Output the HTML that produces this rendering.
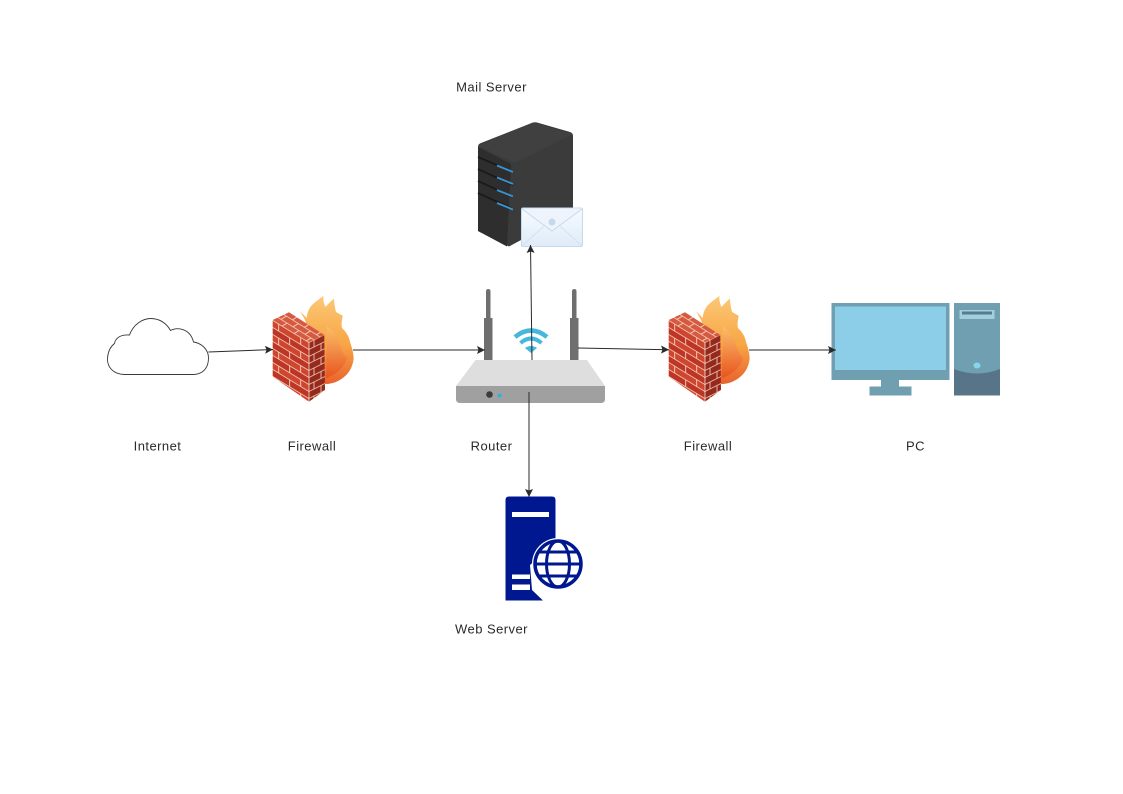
<!DOCTYPE html>
<html><head><meta charset="utf-8"><style>
html,body{margin:0;padding:0;background:#fff;width:1123px;height:794px;overflow:hidden}
svg{display:block}
text{font-family:"Liberation Sans",sans-serif;font-size:13px;letter-spacing:.45px;fill:#2a2a2a;text-anchor:middle}
</style></head><body>
<svg width="1123" height="794" viewBox="0 0 1123 794" xmlns="http://www.w3.org/2000/svg">
<defs>
<pattern id="bL" width="22" height="14" patternUnits="userSpaceOnUse" patternTransform="matrix(1 .61 0 1 272.7 320)">
<rect width="22" height="7" fill="#cf4630"/><rect y="7" width="22" height="7" fill="#bd3526"/>
<path d="M0 .4H22M0 7.400H22M6 0V7M17 7V14" stroke="#f7d6bf" stroke-width=".9" fill="none"/>
</pattern>
<pattern id="bR" width="14" height="14" patternUnits="userSpaceOnUse" patternTransform="matrix(1 -.5 0 1 309 342)">
<rect width="14" height="14" fill="#96291d"/>
<path d="M0 .4H14M0 7.400H14M5 0V7M12 7V14" stroke="#f2c7b0" stroke-width=".9" fill="none"/>
</pattern>
<pattern id="bT" width="12" height="12" patternUnits="userSpaceOnUse" patternTransform="matrix(1 .62 -.9 .55 272 320)">
<rect width="12" height="12" fill="#d65a41"/>
<path d="M0 .4H12M0 6.400H12M4 0V6M10 6V12" stroke="#f6d2bb" stroke-width=".9" fill="none"/>
</pattern>
<linearGradient id="fl" x1="0" y1="0" x2="0" y2="1"><stop offset="0" stop-color="#fcc877"/><stop offset=".55" stop-color="#f8a545"/><stop offset="1" stop-color="#e8622e"/></linearGradient>
<linearGradient id="fi" x1="0" y1="0" x2="0" y2="1"><stop offset="0" stop-color="#fbc06a"/><stop offset="1" stop-color="#e8541f"/></linearGradient>
<linearGradient id="env" x1="0" y1="0" x2="0" y2="1"><stop offset="0" stop-color="#f7fbff"/><stop offset="1" stop-color="#dfebf8"/></linearGradient>
<g id="fw">
<path d="M300 311L306.700 318C307 313 309 309 311 306C315 302 319 299 323.500 296C323 300 324 304 325.500 307C328 304 331 301 334 298.500C334 303 335 308 336 312L342.700 315.700C342 320 341 324 342 328C346 332 349 336 350 342C352 348 354 354 353.500 360C352 368 349 373 344 377C338 382 332 384 325 384L305 320Z" fill="url(#fl)"/>
<path d="M327 326C333 331 338 338 340 345C342 352 345 356 347 358C345 366 338 374 326 378Z" fill="url(#fi)"/>
<path d="M272.700 320L289 312.300L324.300 335L309 342.300Z" fill="url(#bT)"/>
<path d="M272.700 320L309 342.300L309 401.700L272.700 376.700Z" fill="url(#bL)"/>
<path d="M309 342.300L324.300 335L325 390L309 401.700Z" fill="url(#bR)"/>
<path d="M309 342.300V401.700" stroke="#f6e0d0" stroke-width=".8"/>
</g>
<marker id="a" markerUnits="userSpaceOnUse" markerWidth="9" markerHeight="8" refX="8" refY="4" orient="auto"><path d="M0 0L8 4L0 8L1.500 4Z" fill="#2a2a2a"/></marker>
</defs>

<!-- Cloud -->
<path d="M124 374.500C113 374 107 367 107.500 358C108 352 110 347 114.500 343.500C115.500 337 122 334.500 129.500 335C133 325 142 318.500 151 318.500C159 318.500 166.500 323 170.500 330.500C177 327 190 328 193.500 342C201 343 208.500 349 208.500 358C208.500 368 203 374 194 374.500Z" fill="#fff" stroke="#3a3a3a" stroke-width=".9"/>

<use href="#fw"/>
<use href="#fw" x="396"/>

<!-- Mail server -->
<path d="M478 147Q478 144 481 143L533 122.500Q535 122 537 122.500L570 132Q573 133 573 136V212L509 246.500L478 231Z" fill="#3b3b3b"/>
<path d="M478 146L533 122.500L573 134L515 163Z" fill="#404040"/>
<path d="M478 147L511 164L507 246.500L478 231Z" fill="#2e2e2e"/>
<path d="M478 157L513 172M478 169L513 185M478 181L513 197M478 193L513 209" stroke="#1b1b1b" stroke-width="2"/>
<path d="M497 165.500L513 172M497 177.500L513 184M497 190L513 196.500M497 203L513 209.500" stroke="#3a93d4" stroke-width="1.800"/>
<rect x="521.500" y="208" width="61" height="38.500" rx="1.500" fill="url(#env)" stroke="#c5d9ef"/>
<path d="M522 209L552 231L582 209" fill="#eef4fc" stroke="#c5d9ef"/>
<path d="M522 246L544 226M582 246L560 226" stroke="#d3e2f3"/>
<circle cx="552" cy="222" r="3.500" fill="#c8d8ea"/>

<!-- Router -->
<rect x="484" y="318" width="8.500" height="42" fill="#6f6f6f"/>
<rect x="486" y="289" width="4.500" height="32" rx="2.200" fill="#6f6f6f"/>
<rect x="570" y="318" width="8.500" height="42" fill="#6f6f6f"/>
<rect x="572" y="289" width="4.500" height="32" rx="2.200" fill="#6f6f6f"/>
<path d="M475.500 360H587L605 386H456Z" fill="#dedede"/>
<path d="M456 386H605V399Q605 403 601 403H460Q456 403 456 399Z" fill="#a0a0a0"/>
<circle cx="489.500" cy="394.500" r="3.300" fill="#3c3c3c"/>
<circle cx="499.500" cy="395.500" r="2" fill="#2fb2d8"/>
<path d="M515 337Q531 324 547 337" stroke="#45b8dc" stroke-width="4.500" fill="none"/>
<path d="M520.500 343Q531 334 541.500 343" stroke="#45b8dc" stroke-width="4" fill="none"/>
<path d="M525 348Q531 344 537 348L531 353Z" fill="#45b8dc"/>

<!-- Web server -->
<path d="M505.500 500Q505.500 496.500 509 496.500H552Q555.500 496.500 555.500 500V542L530 565L532 590L543 600.500H505.500Z" fill="#00188f"/>
<rect x="512" y="512" width="37" height="5" fill="#fff"/>
<path d="M512 574.500H530V579H512ZM512 584.500H530V590H512Z" fill="#fff"/>
<circle cx="558" cy="564" r="26" fill="#fff"/>
<circle cx="558" cy="564" r="23" fill="#fff" stroke="#00188f" stroke-width="3.500"/>
<ellipse cx="558" cy="564" rx="11.500" ry="23" fill="none" stroke="#00188f" stroke-width="3"/>
<path d="M536 564H580M539 552H577M539 576H577" stroke="#00188f" stroke-width="3"/>

<!-- PC -->
<rect x="831.500" y="303" width="118" height="77" fill="#6f9fb0"/>
<rect x="835" y="306.500" width="111" height="63.500" fill="#8ccde8"/>
<rect x="881" y="380" width="18" height="9" fill="#6f9fb0"/>
<rect x="869.500" y="386.500" width="42" height="9" fill="#6f9fb0"/>
<rect x="954" y="303" width="46" height="92.500" fill="#6f9fb0"/>
<path d="M954 369Q977 378 1000 369V395.500H954Z" fill="#587488"/>
<rect x="959.500" y="310" width="35" height="9" fill="#a3cfdd"/>
<rect x="962" y="311.500" width="30" height="3" fill="#567d8e"/>
<ellipse cx="977" cy="365.500" rx="3.500" ry="3" fill="#8ad3ec"/>

<!-- Connectors -->
<g stroke="#2a2a2a" stroke-width="1" fill="none" marker-end="url(#a)">
<path d="M208.500 352L273 349.500"/>
<path d="M353 350H485"/>
<path d="M578 348L669 349.700"/>
<path d="M749 350H836"/>
<path d="M532 360L530.500 245"/>
<path d="M529 392V497"/>
</g>

<!-- Labels -->
<text x="491.500" y="91.500">Mail Server</text>
<text x="157.500" y="450.500">Internet</text>
<text x="312" y="450.500">Firewall</text>
<text x="491.500" y="450.500">Router</text>
<text x="708" y="450.500">Firewall</text>
<text x="915.500" y="450.500">PC</text>
<text x="491.500" y="633.500">Web Server</text>
</svg>
</body></html>
